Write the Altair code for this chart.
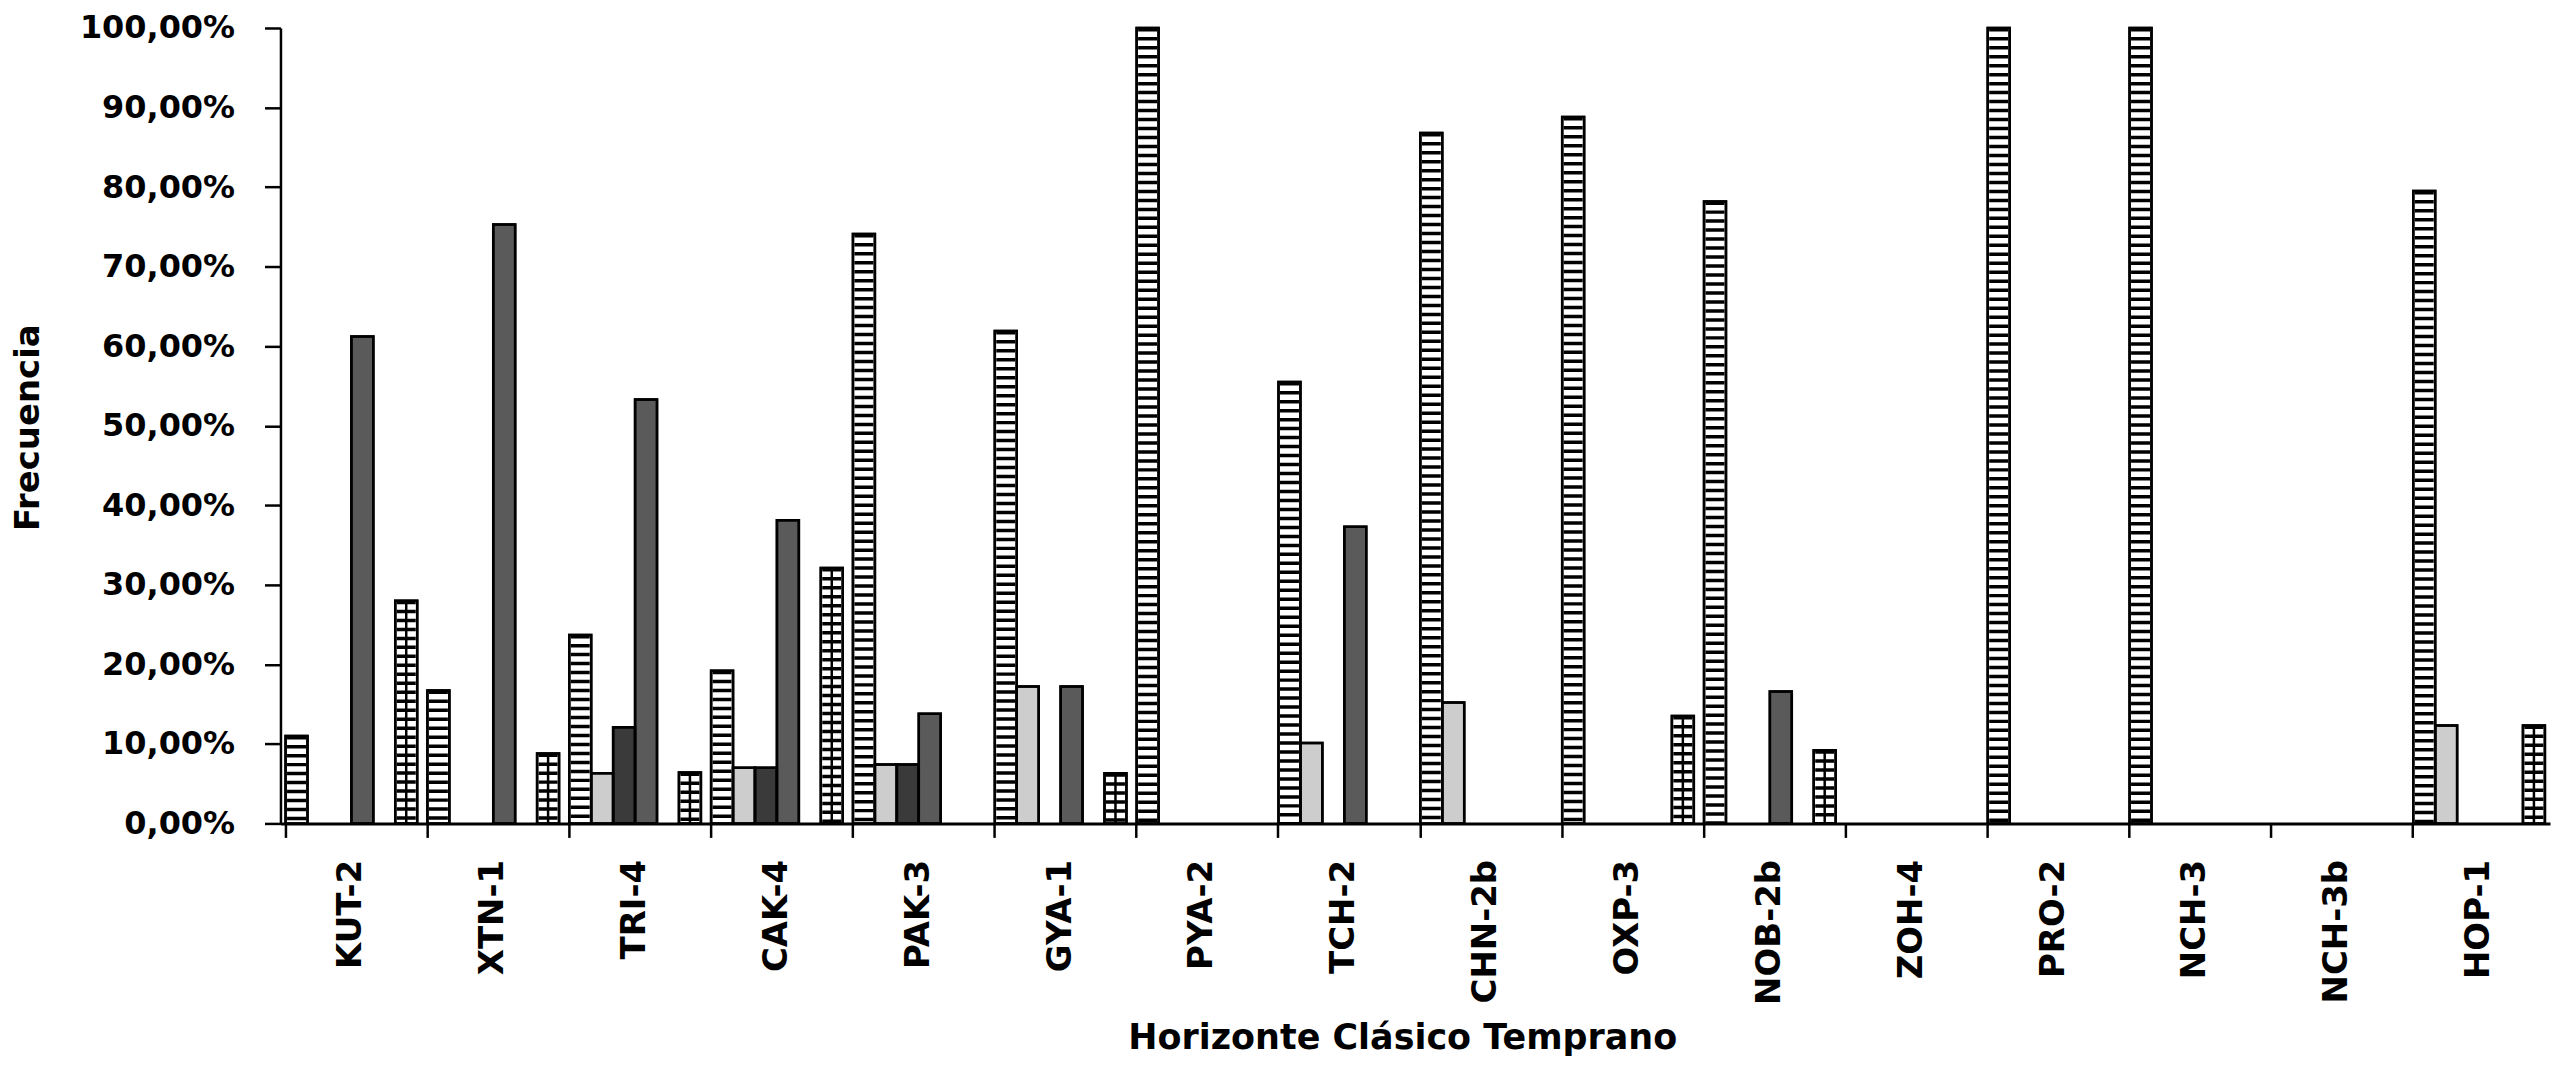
import altair as alt
import pandas as pd

# Categorías (eje X)
categorias = ["KUT-2", "XTN-1", "TRI-4", "CAK-4", "PAK-3", "GYA-1", "PYA-2", "TCH-2",
              "CHN-2b", "OXP-3", "NOB-2b", "ZOH-4", "PRO-2", "NCH-3", "NCH-3b", "HOP-1"]

series = ["Serie 1", "Serie 2", "Serie 3", "Serie 4", "Serie 5", "Serie 6"]

# Valores (%)
serie1 = [11.0, 16.7, 23.7, 19.2, 74.1, 61.9, 100.0, 55.5, 86.8, 88.8, 78.2, 0.0, 100.0, 100.0, 0.0, 79.5]  # rayado horizontal
serie2 = [0.0, 0.0, 6.3, 7.0, 7.4, 17.2, 0.0, 10.1, 15.2, 0.0, 0.0, 0.0, 0.0, 0.0, 0.0, 12.3]           # punteado
serie3 = [0.0, 0.0, 12.1, 7.0, 7.4, 0.0, 0.0, 0.0, 0.0, 0.0, 0.0, 0.0, 0.0, 0.0, 0.0, 0.0]             # espiga
serie4 = [61.2, 75.3, 53.3, 38.1, 13.8, 17.2, 0.0, 37.3, 0.0, 0.0, 16.6, 0.0, 0.0, 0.0, 0.0, 0.0]      # diagonal
serie5 = [0.0] * 16                                                                                      # vacía
serie6 = [28.0, 8.8, 6.4, 32.1, 0.0, 6.3, 0.0, 0.0, 0.0, 13.5, 9.2, 0.0, 0.0, 0.0, 0.0, 12.3]          # cuadrícula

valores = [serie1, serie2, serie3, serie4, serie5, serie6]
relleno = ["white", "#cdcdcd", "#3a3a3a", "#5a5a5a", "white", "white"]

rows = []
for i, c in enumerate(categorias):
    for s, vals in zip(series, valores):
        rows.append({"grupo": c, "serie": s, "valor": vals[i]})
df = pd.DataFrame(rows)

FONT = "DejaVu Sans"

x_enc = alt.X(
    "grupo:N",
    sort=categorias,
    scale=alt.Scale(domain=categorias, paddingInner=0.072, paddingOuter=0.036),
    axis=alt.Axis(
        title="Horizonte Clásico Temprano",
        labelAngle=270,
        bandPosition=0,
        tickSize=14,
        tickWidth=2.5,
        tickColor="black",
        domainColor="black",
        domainWidth=3,
        labelPadding=22,
        labelFont=FONT,
        labelFontSize=34,
        labelFontWeight="bold",
        labelColor="black",
        titleFont=FONT,
        titleFontSize=35,
        titleFontWeight="bold",
        titleColor="black",
        titleX=1124,
        titleY=226,
        titleAlign="center",
        titleBaseline="alphabetic",
    ),
)
xo_enc = alt.XOffset("serie:N", scale=alt.Scale(domain=series))
y_enc = alt.Y(
    "valor:Q",
    scale=alt.Scale(domain=[0, 100], nice=False),
    axis=alt.Axis(
        values=list(range(0, 101, 10)),
        labelExpr="replace(format(datum.value, '.2f'), '.', ',') + '%'",
        tickSize=16,
        tickWidth=2.5,
        tickColor="black",
        domainColor="black",
        domainWidth=2.5,
        labelPadding=30,
        labelFont=FONT,
        labelFontSize=32,
        labelFontWeight="bold",
        labelColor="black",
        grid=False,
        title="Frecuencia",
        titleFont=FONT,
        titleFontSize=34,
        titleFontWeight="bold",
        titleColor="black",
        titleAngle=270,
        titleX=-242,
        titleY=400,
        titleAlign="center",
        titleBaseline="alphabetic",
    ),
)

base = alt.Chart(df).transform_filter("datum.valor > 0")

bars = base.mark_bar(stroke="black", strokeWidth=2.5).encode(
    x=x_enc,
    xOffset=xo_enc,
    y=y_enc,
    fill=alt.Fill("serie:N", scale=alt.Scale(domain=series, range=relleno), legend=None),
)

rungs = base.transform_filter(
    "datum.serie == 'Serie 1' || datum.serie == 'Serie 6'"
).mark_rule(strokeWidth=19, strokeDash=[3.5, 5.5], color="black").encode(
    x=x_enc, xOffset=xo_enc, y=y_enc, y2=alt.datum(0)
)

vline = base.transform_filter("datum.serie == 'Serie 6'").mark_rule(
    strokeWidth=2.5, color="black"
).encode(x=x_enc, xOffset=xo_enc, y=y_enc, y2=alt.datum(0))

outline = base.mark_bar(fillOpacity=0, stroke="black", strokeWidth=2.5).encode(
    x=x_enc, xOffset=xo_enc, y=y_enc
)

chart = (
    alt.layer(bars, rungs, vline, outline)
    .properties(
        width=2274,
        height=797,
        autosize=alt.AutoSizeParams(type="none"),
        padding={"left": 273, "top": 19, "right": 2, "bottom": 232},
        background="white",
    )
    .configure_view(stroke=None)
)

chart.save("out.html", embed_options={"renderer": "svg", "actions": False})
